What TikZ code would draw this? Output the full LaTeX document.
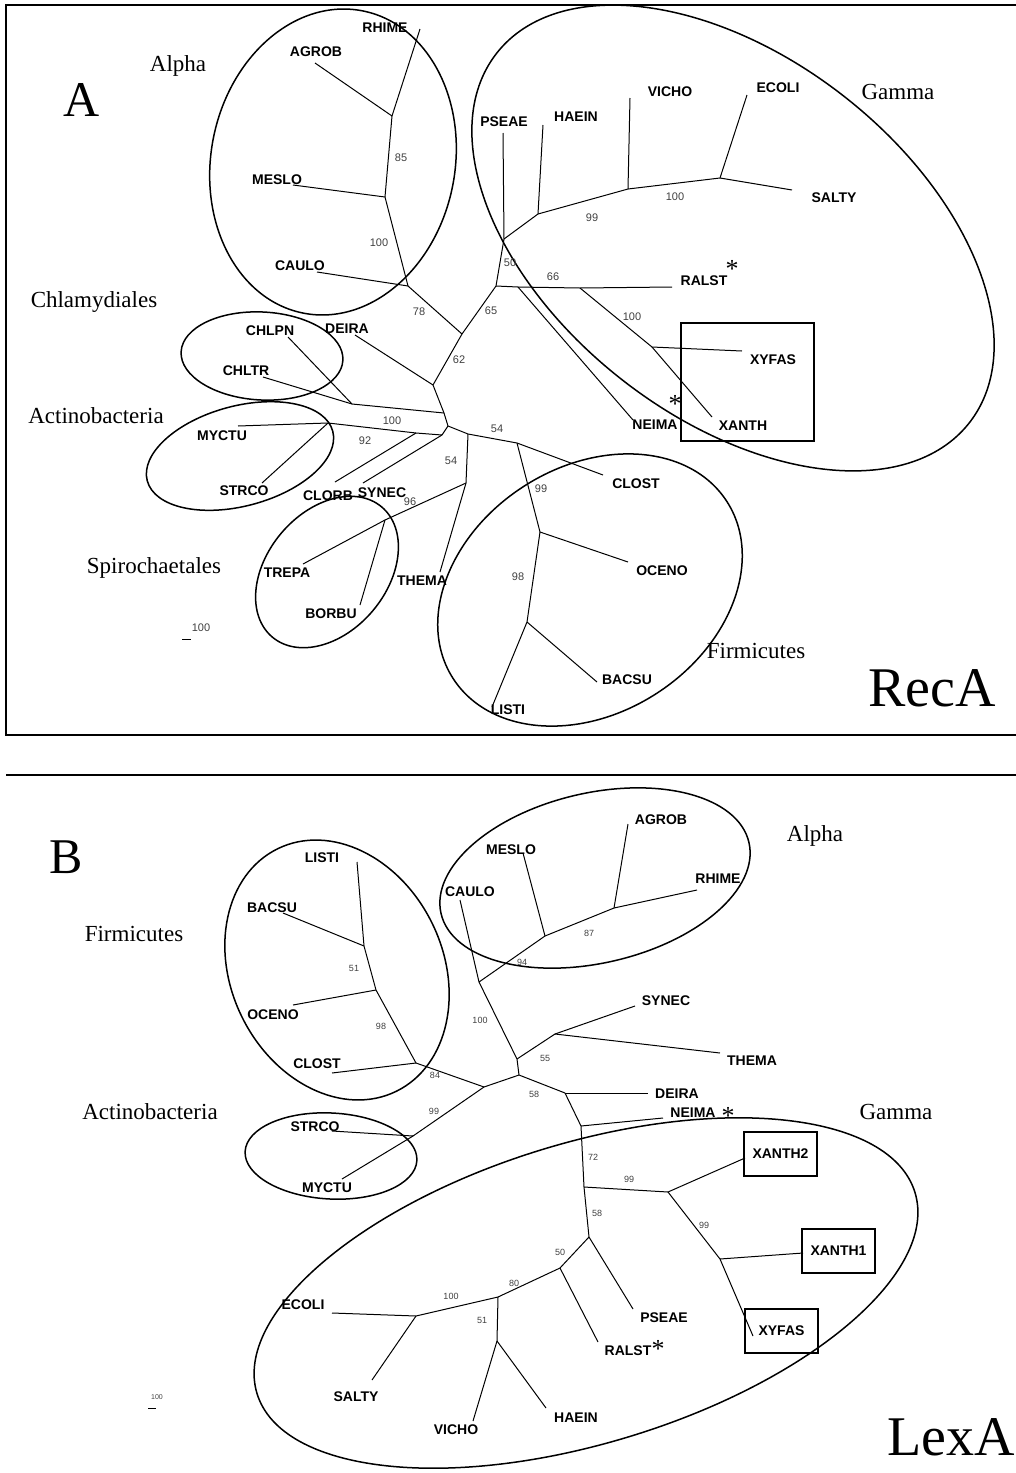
\documentclass[tikz,border=0pt]{standalone}
\usepackage{fontspec}
\setmainfont{Liberation Serif}
\setsansfont{Liberation Sans}
\usepackage{tikz}

\begin{document}
\begin{tikzpicture}[x=1pt, y=-1pt, line width=1pt,
  leaf/.style={font=\fontsize{14}{14}\selectfont\sffamily\bfseries, inner sep=0pt},
  boot/.style={font=\fontsize{11}{11}\selectfont\sffamily, text=black!75, inner sep=0pt},
  bootsm/.style={boot, font=\fontsize{9}{9}\selectfont\sffamily},
  group/.style={font=\fontsize{23}{23}\selectfont, inner sep=0pt},
  panel/.style={font=\fontsize{50}{50}\selectfont, inner sep=0pt},
  prot/.style={font=\fontsize{56}{56}\selectfont, inner sep=0pt},
  star/.style={font=\fontsize{26}{26}\selectfont, inner sep=0pt},
  clade/.style={line width=1.5pt},
  xbox/.style={leaf, draw, line width=1.5pt, minimum width=73pt, minimum height=44pt}]
  \useasboundingbox (0,0) rectangle (1016,1473);

  % frames
  \draw[line width=1.5pt] (1016,5) -- (6,5) -- (6,735) -- (1016,735);
  \draw[line width=1.5pt] (6,775) -- (1016,775);

  %%%%%%%%%%%%%%%% A: RecA
  \node[panel] (letA) at (82,100) {A};
  \node[prot] (recA) at (932,688) {RecA};
  \node[group] (gAalpha) at (178,66) {Alpha};
  \node[group] (gAgamma) at (898,92) {Gamma};
  \node[group] (gAchla) at (94,302) {Chlamydiales};
  \node[group] (gAactino) at (96,416) {Actinobacteria};
  \node[group] (gAspiro) at (154,568) {Spirochaetales};
  \node[group] (gAfirm) at (756,651) {Firmicutes};

  % clades
  \draw[clade, rotate around={79:(333,162)}] (333,162) ellipse [x radius=154pt, y radius=122pt];
  \draw[clade, rotate around={-38:(733,238)}] (733,238) ellipse [x radius=300pt, y radius=180pt];
  \draw[clade, rotate around={-3:(262,356)}] (262,356) ellipse [x radius=81pt, y radius=44pt];
  \draw[clade, rotate around={15:(240,456)}] (240,456) ellipse [x radius=96pt, y radius=50pt];
  \draw[clade, rotate around={50:(327,572)}] (327,572) ellipse [x radius=85pt, y radius=60pt];
  \draw[clade, rotate around={33:(590,590)}] (590,590) ellipse [x radius=163pt, y radius=123pt];
  \draw[clade] (681,323) rectangle (814,441);

  % inner nodes
  \foreach \n/\x/\y in {a1/392/116, a2/385/197, a3/408/286, a4/462/334, a5/433/385,
      a6/496/286, aCh/444/413, aChl/352/404, aC/448/426, aSyn/442/435, aClo/416/433,
      aAct/328/423, a9/468/434, a10/466/483, aSp/385/520, a11/517/443, aF1/540/532,
      aF2/527/622, aP/504/239, aH/538/214, aV/628/189, aE/720/178, aN/518/287,
      aX/580/288, aXX/652/347}
    \coordinate (\n) at (\x,\y);

  % leaves
  \foreach \n/\x/\y/\lx/\ly in {RHIME/420/29/385/28, AGROB/315/63/316/52,
      MESLO/293/185/277/180, CAULO/317/272/300/266, DEIRA/355/335/347/329,
      CHLPN/288/337/270/331, CHLTR/263/377/246/371, MYCTU/238/426/222/436,
      STRCO/262/483/244/491, CLORB/335/482/328/496, SYNEC/363/483/382/493,
      THEMA/440/572/422/581, TREPA/303/564/287/573, BORBU/360/605/331/614,
      CLOST/603/475/636/484, OCENO/628/562/662/571, BACSU/597/682/627/680,
      LISTI/492/707/508/710, PSEAE/503/133/504/122, HAEIN/543/125/576/117,
      VICHO/630/98/670/92, ECOLI/747/95/778/88, SALTY/792/190/834/198,
      RALST/672/287/704/281, NEIMA/633/420/655/425, XYFAS/742/351/773/360,
      XANTH/712/417/743/426}
  {
    \coordinate (a\n) at (\x,\y);
    \node[leaf] (ta\n) at (\lx,\ly) {\n};
  }
  \node[star] (sAralst) at (732,269) {*};
  \node[star] (sAneima) at (675,404) {*};

  % branches
  \foreach \p/\q in {a1/aRHIME, a1/aAGROB, a1/a2, a2/aMESLO, a2/a3, a3/aCAULO, a3/a4,
      a4/a6, a4/a5, a5/aDEIRA, a5/aCh, aCh/aChl, aChl/aCHLPN, aChl/aCHLTR, aCh/aC,
      aC/aSyn, aSyn/aSYNEC, aSyn/aClo, aClo/aCLORB, aClo/aAct, aAct/aMYCTU,
      aAct/aSTRCO, aC/a9, a9/a10, a10/aTHEMA, a10/aSp, aSp/aTREPA, aSp/aBORBU,
      a9/a11, a11/aCLOST, a11/aF1, aF1/aOCENO, aF1/aF2, aF2/aBACSU, aF2/aLISTI,
      a6/aP, aP/aPSEAE, aP/aH, aH/aHAEIN, aH/aV, aV/aVICHO, aV/aE, aE/aECOLI,
      aE/aSALTY, a6/aN, aN/aNEIMA, aN/aX, aX/aRALST, aX/aXX, aXX/aXYFAS, aXX/aXANTH}
    \draw (\p) -- (\q);

  % bootstrap values
  \foreach \v/\x/\y [count=\i] in {85/401/158, 100/379/243, 78/419/312, 62/459/360,
      65/491/311, 50/510/263, 66/553/277, 99/592/218, 100/675/197, 100/632/317,
      100/392/421, 92/365/441, 54/497/429, 54/451/461, 96/410/502, 99/541/489,
      98/518/577}
    \node[boot] (bsA\i) at (\x,\y) {\v};

  % scale
  \coordinate (scA1) at (182,639);
  \coordinate (scA2) at (191,639);
  \draw (scA1) -- (scA2);
  \node[boot] (scAt) at (201,628) {100};

  %%%%%%%%%%%%%%%% B: LexA
  \node[panel] (letB) at (66,857) {B};
  \node[prot] (lexA) at (951,1437) {LexA};
  \node[group] (gBalpha) at (815,836) {Alpha};
  \node[group] (gBfirm) at (134,934) {Firmicutes};
  \node[group] (gBactino) at (150,1112) {Actinobacteria};
  \node[group] (gBgamma) at (896,1112) {Gamma};

  % clades
  \draw[clade, rotate around={-64:(337,970)}] (337,970) ellipse [x radius=135pt, y radius=106pt];
  \draw[clade, rotate around={13:(595,878)}] (595,878) ellipse [x radius=158pt, y radius=85pt];
  \draw[clade, rotate around={-3:(331,1156)}] (331,1156) ellipse [x radius=86pt, y radius=43pt];
  \draw[clade, rotate around={17:(586,1293)}] (586,1293) ellipse [x radius=344pt, y radius=150pt];

  % inner nodes
  \foreach \n/\x/\y in {bF1/364/946, bF2/376/990, bF3/416/1063, bR/484/1087,
      bAct/413/1136, bM/519/1075, bN/517/1059, bAl/479/982, bAl2/545/936,
      bAl3/614/908, bST/555/1034, bD/565/1093, bNe/581/1126, bG1/584/1187,
      bXa/668/1192, bXb/720/1259, bG2/589/1237, bG3/560/1268, bG4/498/1297,
      bEc/416/1316, bVi/497/1341}
    \coordinate (\n) at (\x,\y);

  % leaves
  \foreach \n/\x/\y/\lx/\ly in {LISTI/357/862/322/858, BACSU/283/913/272/908,
      OCENO/293/1005/273/1015, CLOST/332/1073/317/1064, STRCO/332/1131/315/1127,
      MYCTU/342/1179/327/1188, CAULO/460/900/470/892, MESLO/523/853/511/850,
      AGROB/628/824/661/820, RHIME/697/890/718/879, SYNEC/635/1006/666/1001,
      THEMA/720/1053/752/1061, DEIRA/648/1093/677/1094, NEIMA/663/1118/693/1113,
      PSEAE/633/1309/664/1318, RALST/598/1342/628/1351, ECOLI/332/1313/303/1305,
      SALTY/372/1380/356/1397, VICHO/473/1421/456/1430, HAEIN/546/1408/576/1418}
  {
    \coordinate (b\n) at (\x,\y);
    \node[leaf] (tb\n) at (\lx,\ly) {\n};
  }
  \foreach \n/\x/\y/\lx/\ly in {XANTH2/745/1158/780.5/1154, XANTH1/803/1253/838.5/1251,
      XYFAS/753/1336/781.5/1331}
  {
    \coordinate (b\n) at (\x,\y);
    \node[xbox] (xb\n) at (\lx,\ly) {\n};
  }
  \node[star] (sBneima) at (728,1116) {*};
  \node[star] (sBralst) at (658,1349) {*};

  % branches
  \foreach \p/\q in {bF1/bLISTI, bF1/bBACSU, bF1/bF2, bF2/bOCENO, bF2/bF3, bF3/bCLOST,
      bF3/bR, bR/bAct, bAct/bSTRCO, bAct/bMYCTU, bR/bM, bM/bN, bN/bAl, bAl/bCAULO,
      bAl/bAl2, bAl2/bMESLO, bAl2/bAl3, bAl3/bAGROB, bAl3/bRHIME, bN/bST, bST/bSYNEC,
      bST/bTHEMA, bM/bD, bD/bDEIRA, bD/bNe, bNe/bNEIMA, bNe/bG1, bG1/bXa, bXa/bXANTH2,
      bXa/bXb, bXb/bXANTH1, bXb/bXYFAS, bG1/bG2, bG2/bPSEAE, bG2/bG3, bG3/bRALST,
      bG3/bG4, bG4/bEc, bEc/bECOLI, bEc/bSALTY, bG4/bVi, bVi/bVICHO, bVi/bHAEIN}
    \draw (\p) -- (\q);

  % bootstrap values
  \foreach \v/\x/\y [count=\i] in {51/354/968, 98/381/1026, 84/435/1075, 99/434/1111,
      100/480/1020, 94/522/962, 87/589/933, 55/545/1058, 58/534/1094, 72/593/1157,
      99/629/1179, 99/704/1225, 58/597/1213, 50/560/1252, 80/514/1283, 100/451/1296,
      51/482/1320}
    \node[bootsm] (bsB\i) at (\x,\y) {\v};

  % scale
  \coordinate (scB1) at (148,1408);
  \coordinate (scB2) at (156,1408);
  \draw (scB1) -- (scB2);
  \node[boot, font=\fontsize{7}{7}\selectfont\sffamily] (scBt) at (157,1397) {100};
\end{tikzpicture}
\end{document}
